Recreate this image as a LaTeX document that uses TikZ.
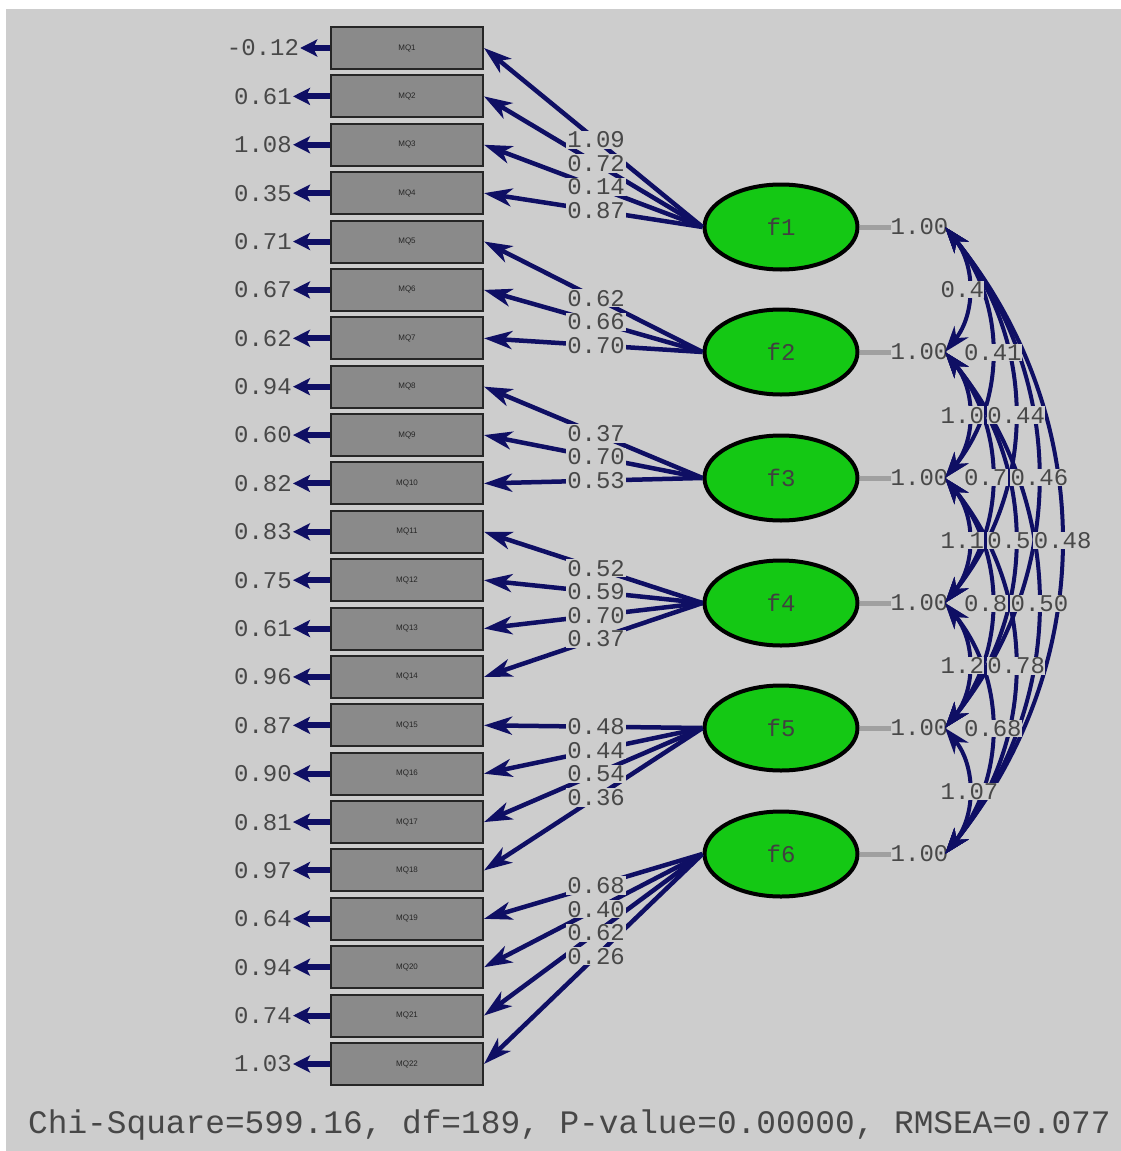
\documentclass[tikz,border=0pt]{standalone}
\usepackage{fontspec}
\setmainfont{Liberation Sans}
\newfontfamily\monof{Liberation Mono}
\usetikzlibrary{arrows.meta,shapes.geometric}
\definecolor{bg}{RGB}{205,205,205}
\definecolor{navy}{RGB}{15,15,100}
\definecolor{numgray}{RGB}{72,72,72}
\definecolor{boxgray}{RGB}{138,138,138}
\definecolor{fgreen}{RGB}{20,200,20}
\definecolor{stubgray}{RGB}{160,160,160}
\begin{document}
\begin{tikzpicture}[x=1pt,y=-1pt,
  mq/.style={draw=black!85, line width=2pt, fill=boxgray, minimum width=152pt, minimum height=42pt, inner sep=0pt, font=\fontsize{8}{9}\selectfont, text=black!85},
  fac/.style={ellipse, draw=black, line width=4pt, fill=fgreen, minimum width=153pt, minimum height=85pt, inner sep=0pt, font=\monof\fontsize{24}{24}\selectfont, text=black!75},
  num/.style={font=\monof\fontsize{24}{24}\selectfont, text=numgray, inner sep=1pt},
  lab/.style={num, fill=bg},
  errarrow/.style={draw=navy, line width=6pt, -{Stealth[length=17pt,width=17pt,inset=4pt]}},
  load/.style={draw=navy, line width=4.5pt, -{Stealth[length=28pt,width=18pt,inset=8pt]}},
  corr/.style={draw=navy, line width=4pt, {Stealth[length=26pt,width=18pt,inset=8pt]}-{Stealth[length=26pt,width=18pt,inset=8pt]}},
  stub/.style={draw=stubgray, line width=5pt}
]
\useasboundingbox (0,0) rectangle (1121,1151);
\fill[white] (0,0) rectangle (1121,1151);
\fill[bg] (6,9) rectangle (1121,1151);

% observed variables
\foreach \i in {1,...,22} {
  \node[mq] (m\i) at (407,{48+48.38*(\i-1)}) {MQ\i};
}
% error variances
\foreach \i/\v in {1/-0.12,2/0.61,3/1.08,4/0.35,5/0.71,6/0.67,7/0.62,8/0.94,9/0.60,10/0.82,11/0.83,12/0.75,13/0.61,14/0.96,15/0.87,16/0.90,17/0.81,18/0.97,19/0.64,20/0.94,21/0.74,22/1.03} {
  \node[num] (e\i) at (263,{48+48.38*(\i-1)}) {\v};
  \draw[errarrow] (m\i.west) -- (e\i.east);
}
% factors
\foreach \k/\y in {1/227,2/352,3/478,4/603,5/728,6/854} {
  \node[fac] (f\k) at (781,\y) {f\k};
}
% loadings: lines
\foreach \k/\i in {1/1,1/2,1/3,1/4,2/5,2/6,2/7,3/8,3/9,3/10,4/11,4/12,4/13,4/14,5/15,5/16,5/17,5/18,6/19,6/20,6/21,6/22} {
  \draw[load] (f\k.west) -- (m\i.east);
}
% loadings: labels
\foreach \k/\i/\v in {1/1/1.09,1/2/0.72,1/3/0.14,1/4/0.87,2/5/0.62,2/6/0.66,2/7/0.70,3/8/0.37,3/9/0.70,3/10/0.53,4/11/0.52,4/12/0.59,4/13/0.70,4/14/0.37,5/15/0.48,5/16/0.44,5/17/0.54,5/18/0.36,6/19/0.68,6/20/0.40,6/21/0.62,6/22/0.26} {
  \path (f\k.west) -- node[lab, pos=0.487] (l\i) {\v} (m\i.east);
}
% factor variances
\foreach \k/\y in {1/227,2/352,3/478,4/603,5/728,6/854} {
  \draw[stub] (f\k.east) -- ++(31,0) coordinate (s\k);
  \node[num, anchor=west, inner sep=0pt] (vl\k) at (s\k) {1.00};
  \coordinate (v\k) at (945,\y);
}
% correlations: arcs
\foreach \a/\b in {1/2,1/3,1/4,1/5,1/6,2/3,2/4,2/5,2/6,3/4,3/5,3/6,4/5,4/6,5/6} {
  \draw[corr] (v\a) to[bend left=39] (v\b);
}
% correlations: labels
\foreach \a/\b/\v in {1/2/0.4,1/3/0.41,1/4/0.44,1/5/0.46,1/6/0.48,2/3/1.0,2/4/0.7,2/5/0.5,2/6/0.50,3/4/1.1,3/5/0.8,3/6/0.78,4/5/1.2,4/6/0.68,5/6/1.07} {
  \node[lab, anchor=west, inner sep=0.5pt] (c\a\b) at ({940+23.3*(\b-\a-1)},{(227+125.4*(\a-1)+227+125.4*(\b-1))/2}) {\v};
}
% fit statistics
\node[anchor=west, inner sep=0pt, font=\monof\fontsize{32.8}{33}\selectfont, text=black!72] (fit) at (28,1125) {Chi-Square=599.16, df=189, P-value=0.00000, RMSEA=0.077};
\end{tikzpicture}
\end{document}
